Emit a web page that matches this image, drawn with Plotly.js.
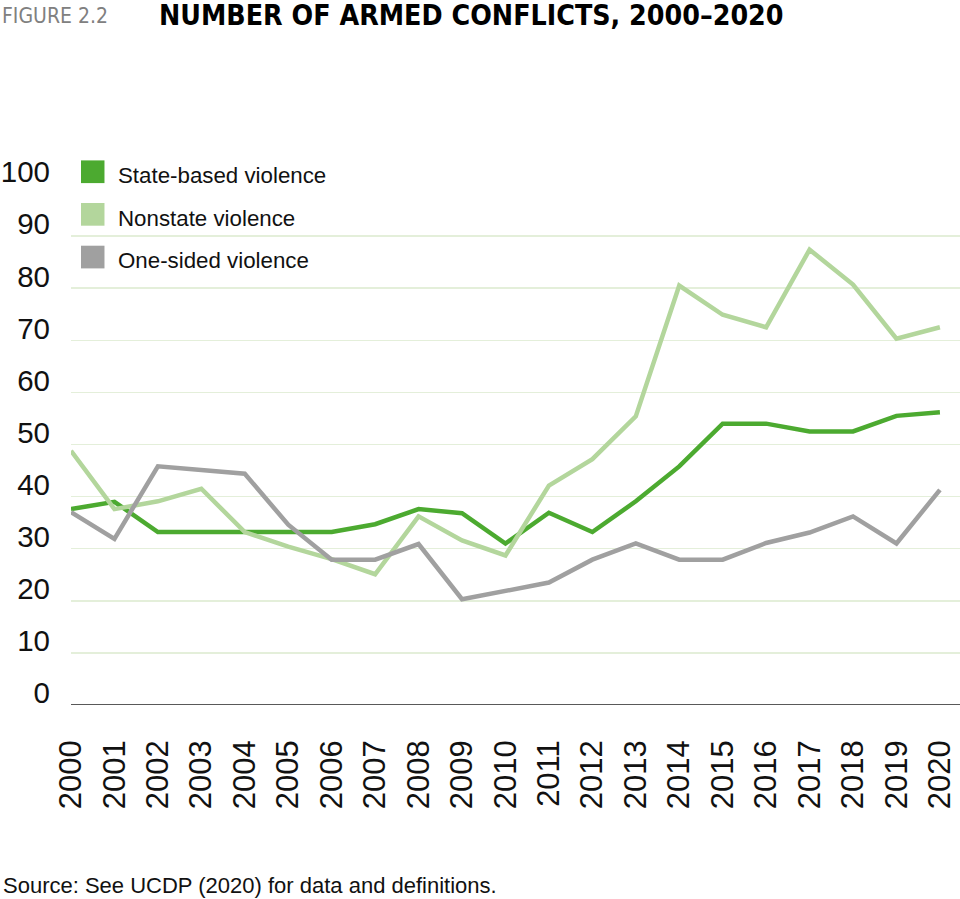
<!DOCTYPE html>
<html>
<head>
<meta charset="utf-8">
<script src="https://cdn.plot.ly/plotly-3.0.1.min.js"></script>
<style>
html,body{margin:0;padding:0;background:#fff;}
#chart{width:960px;height:899px;}
</style>
</head>
<body>
<div id="chart"></div>
<script>
// ---- data ----
const years = [2000,2001,2002,2003,2004,2005,2006,2007,2008,2009,2010,2011,2012,2013,2014,2015,2016,2017,2018,2019,2020];
const stateBased = [37.6,39,33.2,33.2,33.2,33.2,33.2,34.7,37.6,36.8,31,36.9,33.2,39.1,45.8,54,54,52.5,52.5,55.5,56.2];
const nonstate   = [48.8,37.6,39.1,41.5,33.2,30.4,28,25.1,36.2,31.6,28.7,42.1,47.2,55.4,80.5,74.9,72.5,87.4,80.7,70.3,72.5];
const oneSided   = [37,31.9,45.8,45,44.4,34.6,27.9,27.9,30.9,20.3,21.8,23.5,27.9,31,27.9,27.9,31.1,33.1,36.2,31,41.3];
const seriesNames = ["State-based violence","Nonstate violence","One-sided violence"];
const seriesColors = ["#4caa30","#b3d69c","#a0a0a0"];
const yTicks = [0,10,20,30,40,50,60,70,80,90,100];
const titleLabel = "FIGURE 2.2";
const titleText = "NUMBER OF ARMED CONFLICTS, 2000–2020";
const sourceText = "Source: See UCDP (2020) for data and definitions.";

// ---- layout geometry ----
const W = 960, H = 899;
const mL = 70.5, mR = 0, mT = 184.3, mB = 899 - 705.3;
const pw = W - mL - mR, ph = H - mT - mB;
const px2x = p => (p - mL) / pw;
const px2y = p => (H - mB - p) / ph;

const seriesData = [stateBased, nonstate, oneSided];
const traces = seriesData.map((vals, i) => ({
  type: 'scatter', mode: 'lines', x: years, y: vals, name: seriesNames[i],
  line: {color: seriesColors[i], width: 4.5}, showlegend: false, hoverinfo: 'x+y+name'
}));

const shapes = [{
  type: 'rect', xref: 'paper', yref: 'paper', layer: 'between',
  x0: px2x(70), x1: px2x(338), y0: px2y(158), y1: px2y(282),
  fillcolor: '#ffffff', line: {width: 0}
}];
const annotations = [];
const swTop = [160.7, 203.3, 246];
const txtMid = [176, 218.5, 261];
seriesNames.forEach((n, i) => {
  shapes.push({
    type: 'rect', xref: 'paper', yref: 'paper', layer: 'above',
    x0: px2x(80.5), x1: px2x(104), y0: px2y(swTop[i]), y1: px2y(swTop[i] + 22.7),
    fillcolor: seriesColors[i], line: {width: 0}
  });
  annotations.push({
    xref: 'paper', yref: 'paper', x: px2x(116), y: px2y(txtMid[i]),
    xanchor: 'left', yanchor: 'middle', showarrow: false, text: n,
    font: {family: 'Liberation Sans, Arial, sans-serif', size: 22.3, color: '#111'}
  });
});
annotations.push({
  xref: 'paper', yref: 'paper', x: px2x(-1), y: px2y(16), xanchor: 'left', yanchor: 'middle',
  showarrow: false, text: titleLabel,
  font: {family: 'DejaVu Sans Condensed, sans-serif', size: 21, color: '#808080'}
});
annotations.push({
  xref: 'paper', yref: 'paper', x: px2x(157), y: px2y(16), xanchor: 'left', yanchor: 'middle',
  showarrow: false, text: '<b>' + titleText + '</b>',
  font: {family: 'DejaVu Sans Condensed, sans-serif', size: 28.3, color: '#000'}
});
annotations.push({
  xref: 'paper', yref: 'paper', x: px2x(0), y: px2y(886), xanchor: 'left', yanchor: 'middle',
  showarrow: false, text: sourceText,
  font: {family: 'Liberation Sans, Arial, sans-serif', size: 22, color: '#111'}
});

const layout = {
  width: W, height: H,
  margin: {l: mL, r: mR, t: mT, b: mB, pad: 0},
  paper_bgcolor: '#fff', plot_bgcolor: '#fff',
  showlegend: false,
  xaxis: {
    range: [2000, 2000 + pw / 43.47], tickvals: years, ticktext: years.map(String),
    tickangle: -90, showgrid: false, zeroline: false, showline: false, ticks: '',
    ticklabelstandoff: 28,
    tickfont: {family: 'Liberation Sans, Arial, sans-serif', size: 31, color: '#111'}
  },
  yaxis: {
    range: [0, 100], tickvals: yTicks, ticktext: yTicks.map(String),
    showgrid: true, gridcolor: '#e4efda', gridwidth: 1.5,
    zeroline: false, showline: false, ticks: '',
    ticklabelstandoff: 20, ticklabelshift: -12,
    tickfont: {family: 'Liberation Sans, Arial, sans-serif', size: 29.5, color: '#111'}
  },
  shapes: shapes.concat([{
    type: 'line', xref: 'paper', yref: 'y', x0: 0, x1: 1, y0: 0, y1: 0,
    line: {color: '#222', width: 1.5}, layer: 'above'
  }]),
  annotations: annotations
};

Plotly.newPlot('chart', traces, layout, {staticPlot: true, displayModeBar: false});
</script>
</body>
</html>
